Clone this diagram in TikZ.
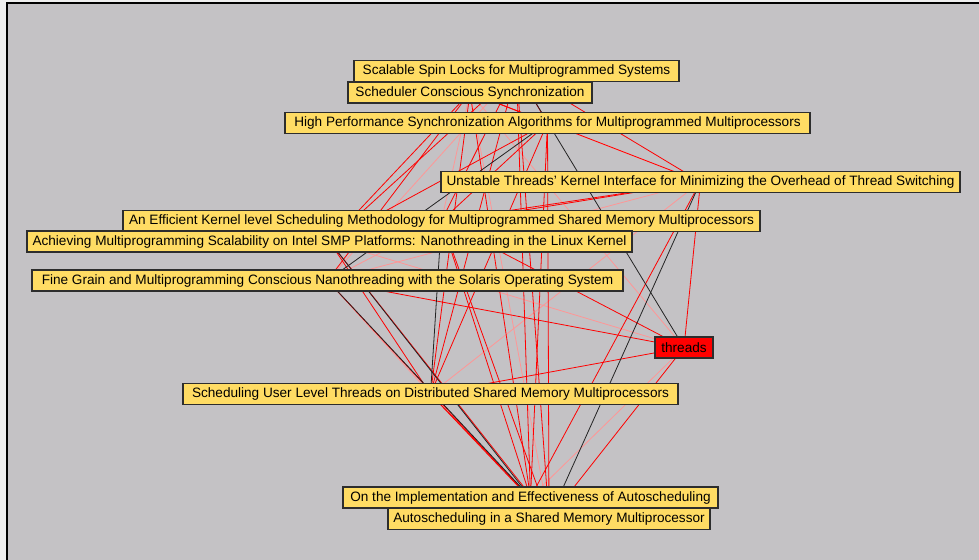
\documentclass[tikz,border=0pt]{standalone}
\usepackage{fontspec}
\setmainfont{Liberation Sans}
\usepackage{xcolor}
\usepackage{tikz}
\usetikzlibrary{backgrounds}

\definecolor{panel}{RGB}{196,194,197}
\definecolor{outside}{RGB}{238,238,238}
\definecolor{boxfill}{RGB}{255,220,100}
\definecolor{boxline}{RGB}{45,45,45}
\definecolor{edgered}{RGB}{255,0,0}
\definecolor{edgepink}{RGB}{255,150,150}
\definecolor{edgeblack}{RGB}{35,35,35}

\begin{document}
\begin{tikzpicture}[x=0.75pt,y=-0.75pt,font=\fontsize{10.2}{12}\selectfont,
    paper/.style={draw=boxline,line width=0.8pt,fill=boxfill,inner sep=0pt,
      minimum height=15.75pt,minimum width=#1*0.75pt},
    topic/.style={paper=#1,fill=edgered},
    redge/.style={edgered,line width=0.6pt},
    pedge/.style={edgepink,line width=0.6pt},
    bedge/.style={edgeblack,line width=0.6pt}]
  \useasboundingbox (0,0) rectangle (979,560);
  % paper titles
  \node[paper=325] (spin) at (516.5,71) {Scalable Spin Locks for Multiprogrammed Systems};
  \node[paper=244] (schedsync) at (470,92.5) {Scheduler Conscious Synchronization};
  \node[paper=525] (highperf) at (547.5,122.75) {High Performance Synchronization Algorithms for Multiprogrammed Multiprocessors};
  \node[paper=519] (unstable) at (700.5,181.75) {Unstable Threads' Kernel Interface for Minimizing the Overhead of Thread Switching};
  \node[paper=637] (efficient) at (441.5,220.75) {An Efficient Kernel level Scheduling Methodology for Multiprogrammed Shared Memory Multiprocessors};
  \node[paper=605] (achieving) at (329.5,241.5) {Achieving Multiprogramming Scalability on Intel SMP Platforms: Nanothreading in the Linux Kernel};
  \node[paper=591] (finegrain) at (327.5,280.5) {Fine Grain and Multiprogramming Conscious Nanothreading with the Solaris Operating System};
  \node[topic=58] (threads) at (684,347.5) {threads};
  \node[paper=495] (userlevel) at (430.5,394) {Scheduling User Level Threads on Distributed Shared Memory Multiprocessors};
  \node[paper=375] (impl) at (530.5,497.5) {On the Implementation and Effectiveness of Autoscheduling};
  \node[paper=322] (autosched) at (549,518.75) {Autoscheduling in a Shared Memory Multiprocessor};
  \begin{pgfonlayer}{background}
    \fill[outside] (0,0) rectangle (979,560);
    \fill[panel] (7,3.5) rectangle (979,560);
    \draw[black,line width=1.5pt] (7,560) -- (7,3.5) -- (979,3.5);
    % links
    \foreach \a/\b in {spin/finegrain,schedsync/efficient,schedsync/threads,schedsync/autosched,
        highperf/unstable,unstable/finegrain,unstable/userlevel,efficient/finegrain,
        achieving/threads,finegrain/userlevel,threads/impl}
      \draw[pedge] (\a.center) -- (\b.center);
    \foreach \a/\b in {spin/schedsync,spin/highperf,spin/unstable,spin/efficient,spin/achieving,
        spin/userlevel,spin/impl,spin/autosched,schedsync/highperf,schedsync/unstable,
        schedsync/achieving,schedsync/finegrain,schedsync/userlevel,schedsync/impl,
        highperf/efficient,highperf/achieving,highperf/userlevel,highperf/impl,highperf/autosched,
        unstable/efficient,unstable/achieving,unstable/threads,unstable/impl,
        efficient/achieving,efficient/threads,efficient/impl,efficient/autosched,
        achieving/userlevel,achieving/autosched,finegrain/threads,finegrain/autosched,
        threads/userlevel,threads/autosched,userlevel/impl,userlevel/autosched,impl/autosched}
      \draw[redge] (\a.center) -- (\b.center);
    \foreach \a/\b in {spin/threads,highperf/finegrain,unstable/autosched,efficient/userlevel,
        achieving/impl,finegrain/impl}
      \draw[bedge] (\a.center) -- (\b.center);
  \end{pgfonlayer}
\end{tikzpicture}
\end{document}
